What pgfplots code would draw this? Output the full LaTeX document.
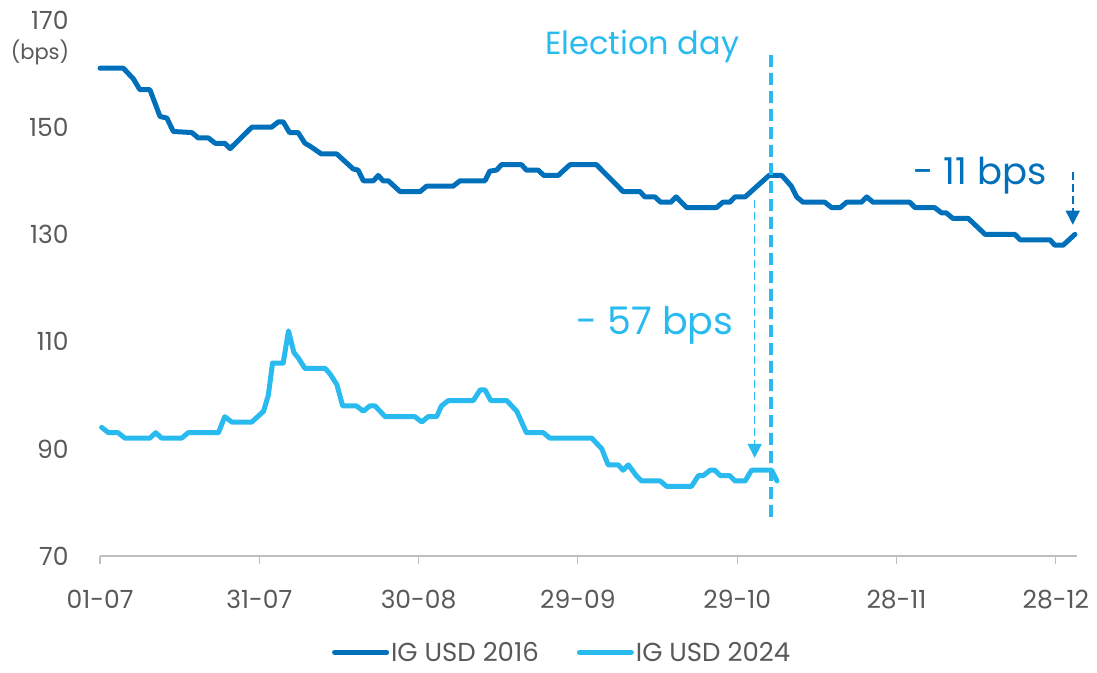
\documentclass[border=0pt]{standalone}
\usepackage{pgfplots}
\pgfplotsset{compat=1.18}
\usepackage{fontspec}
\setmainfont{Poppins}
\usetikzlibrary{arrows.meta}

\definecolor{igdark}{RGB}{0,112,186}
\definecolor{iglight}{RGB}{41,187,239}
\definecolor{txtgray}{RGB}{89,89,89}
\definecolor{axgray}{RGB}{191,191,191}

\begin{document}
\begin{tikzpicture}[x=1pt,y=1pt]
\useasboundingbox (0,0) rectangle (1097,672);
\begin{axis}[
  at={(100pt,116pt)}, anchor=south west,
  scale only axis, width=977pt, height=536pt,
  xmin=0, xmax=184, ymin=70, ymax=170,
  clip=false,
  axis x line*=bottom, axis y line*=left,
  x axis line style={draw=axgray, line width=1.2pt, -},
  y axis line style={draw=none},
  xtick={0,30,60,90,120,150,180},
  xticklabels={01-07,31-07,30-08,29-09,29-10,28-11,28-12},
  ytick={70,90,110,130,150,170},
  tick align=outside, major tick length=8pt,
  xtick style={draw=axgray, line width=1.2pt},
  ytick style={draw=none},
  xticklabel style={font=\fontsize{25}{28}\selectfont, text=txtgray, yshift=-23pt},
  yticklabel style={font=\fontsize{25}{28}\selectfont, text=txtgray, xshift=-20pt},
  /pgf/number format/assume math mode=true,
  legend style={at={(0.473,-0.18)}, anchor=center, draw=none, fill=none,
    legend columns=2, font=\fontsize{26}{29}\selectfont, text=txtgray,
    inner sep=1pt,
    /tikz/every even column/.append style={column sep=36pt}},
  legend image code/.code={\draw[#1, line cap=round] (0pt,0pt) -- (52pt,0pt);},
]
\addplot[igdark, line width=5pt, line join=round, line cap=round] coordinates {
(0,161) (4.4,161) (6.3,159) (7.5,157) (9.4,157) (11.3,152) (12.6,151.7)
(13.8,149.2) (17.3,149) (18.5,148) (20.4,148) (21.7,147) (23.5,147) (24.5,146)
(28.6,150) (32.3,150) (33.6,151) (34.5,151) (35.7,149) (37.3,149) (38.6,147)
(39.5,146.5) (41.7,145) (44.6,145) (47.7,142.2) (48.6,142) (49.6,140) (51.5,140)
(52.4,141) (53.3,140) (54.3,140) (56.5,138) (60.3,138) (61.5,139) (66.5,139)
(67.8,140) (72.5,140) (73.4,141.8) (74.7,142) (75.6,143) (79.4,143) (80.3,142)
(82.5,142) (83.6,141) (86.3,141) (88.5,143) (93.5,143) (98.5,138) (101.7,138)
(102.6,137) (104.5,137) (105.6,136) (107.5,136) (108.5,137) (110.5,135)
(116.1,135) (117.3,136) (118.6,136) (119.6,137) (121.5,137) (126,141) (128.4,141)
(130.2,139) (131.2,137) (132.4,136) (136.5,136) (137.8,135) (139.4,135)
(140.6,136) (143.4,136) (144.4,137) (145.6,136) (152.5,136) (153.5,135)
(157.2,135) (158.5,134) (159.4,134) (160.6,133) (163.5,133) (166.7,130)
(172.3,130) (173.3,129) (178.9,129) (179.8,128) (181.4,128) (183.6,130)
};
\addlegendentry{IG USD 2016}
\addplot[iglight, line width=5pt, line join=round, line cap=round] coordinates {
(0.3,94) (1.6,93) (3.4,93) (4.7,92) (9.4,92) (10.5,93) (11.6,92) (15.4,92)
(16.6,93) (22.3,93) (23.5,96) (24.8,95) (28.6,95) (30.8,97) (31.7,100) (32.5,106)
(34.5,106) (35.5,112) (36.5,108) (37.3,107) (38.6,105) (42.4,105) (43.3,104)
(44.6,102) (45.7,98) (48.3,98) (49.6,97) (50.8,98) (51.8,98) (53.7,96) (59.3,96)
(60.6,95) (61.8,96) (63.4,96) (64.3,98) (65.6,99) (70.3,99) (71.6,101) (72.5,101)
(73.6,99) (76.6,99) (78.5,97) (80.3,93) (83.5,93) (84.7,92) (92.6,92) (94.5,90)
(95.7,87) (97.6,87) (98.5,86) (99.5,87) (101,85) (102,84) (105.5,84) (106.7,83)
(111.4,83) (112.7,85) (113.6,85) (114.9,86) (115.8,86) (116.8,85) (118.6,85)
(119.6,84) (121.5,84) (122.7,86) (126.5,86) (127.5,84)
};
\addlegendentry{IG USD 2024}

% election day marker
\draw[iglight, line width=3.5pt, dash pattern=on 12pt off 6pt]
  (axis cs:126.4,163.5) -- (axis cs:126.4,76.3);
\node[iglight, font=\fontsize{32}{36}\selectfont] at (axis cs:102.1,165.1) {Election day};

% change annotations
\draw[iglight, line width=1.5pt, dash pattern=on 8pt off 4pt,
  -{Triangle[width=14pt,length=14pt]}] (axis cs:123.3,136.4) -- (axis cs:123.3,88.3);
\node[iglight, font=\fontsize{38}{42}\selectfont] at (axis cs:104.5,113.1) {- 57 bps};
\draw[igdark, line width=1.5pt, dash pattern=on 8pt off 4pt,
  -{Triangle[width=14pt,length=14pt]}] (axis cs:183.2,141.7) -- (axis cs:183.2,131.8);
\node[igdark, font=\fontsize{37}{41}\selectfont] at (axis cs:165.7,140.9) {- 11 bps};

\node[txtgray, font=\fontsize{21}{24}\selectfont] at (axis cs:-11.3,164) {(bps)};
\end{axis}
\end{tikzpicture}
\end{document}
